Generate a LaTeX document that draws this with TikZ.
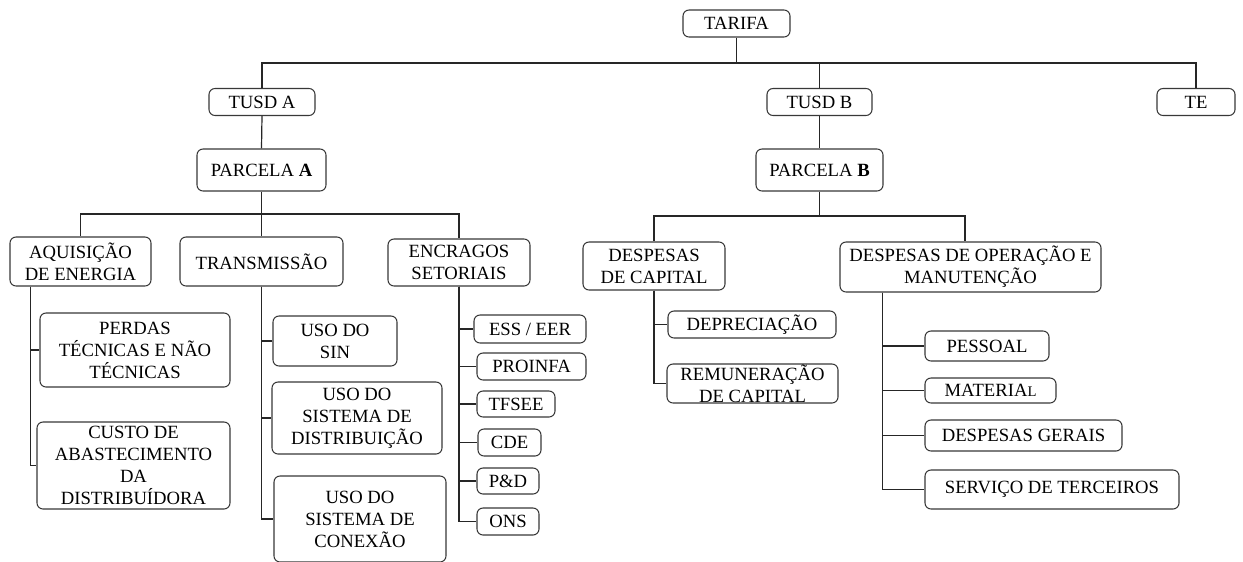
\documentclass[tikz,border=0pt]{standalone}
\usepackage{fontspec}
\setmainfont{Liberation Serif}
\newfontfamily\boxfont{Liberation Serif}
\begin{document}
\begin{tikzpicture}[x=0.75pt, y=-0.75pt,
  box/.style={draw=black!78, line width=0.8pt, rounded corners=4.5pt, inner sep=0pt,
    align=center, text=black, font=\boxfont\fontsize{14}{16.5}\selectfont},
  sz/.style 2 args={minimum width=#1*0.75pt, minimum height=#2*0.75pt},
  link/.style={draw=black!85, line width=0.9pt}]
\useasboundingbox (0,0) rectangle (1243,561);

% top levels
\node[box, sz={107}{27}] (tarifa) at (736.5,23.5) {TARIFA};
\node[box, sz={106}{27}] (tusda) at (262,102) {TUSD A};
\node[box, sz={105}{27}] (tusdb) at (819.5,102) {TUSD B};
\node[box, sz={78}{27}] (te) at (1196,102) {TE};
\node[box, sz={129}{42}] (parca) at (261.5,170) {PARCELA \textbf{A}};
\node[box, sz={127}{42}] (parcb) at (819.5,170) {PARCELA \textbf{B}};

% Parcela A groups
\node[box, sz={141}{49}] (aq) at (80.5,261.5) {AQUISIÇÃO\\DE ENERGIA};
\node[box, sz={163}{49}] (tr) at (261.5,261.5) {TRANSMISSÃO};
\node[box, sz={142}{47}] (en) at (459,262.5) {ENCRAGOS\\SETORIAIS};

% Parcela B groups
\node[box, sz={142}{48}] (dc) at (654,266) {DESPESAS\\DE CAPITAL};
\node[box, sz={261}{50}] (dop) at (970.5,267) {DESPESAS DE OPERAÇÃO E\\MANUTENÇÃO};

% energy acquisition
\node[box, sz={190}{74}] (perdas) at (135,350) {PERDAS\\TÉCNICAS E NÃO\\TÉCNICAS};
\node[box, sz={193}{87}] (custo) at (133.5,465.5) {CUSTO DE\\ABASTECIMENTO\\DA\\DISTRIBUÍDORA};

% transmission
\node[box, sz={124}{50}] (sin) at (335,341) {USO DO\\SIN};
\node[box, sz={170}{72}] (dist) at (357,418) {USO DO\\SISTEMA DE\\DISTRIBUIÇÃO};
\node[box, sz={172}{86}] (conex) at (360,519) {USO DO\\SISTEMA DE\\CONEXÃO};

% sector charges
\node[box, sz={112}{28}] (ess) at (530,329) {ESS / EER};
\node[box, sz={109}{27}] (proinfa) at (531.5,366.5) {PROINFA};
\node[box, sz={78}{26}] (tfsee) at (516,404) {TFSEE};
\node[box, sz={63}{27}] (cde) at (509.5,442.5) {CDE};
\node[box, sz={62}{26}] (pd) at (508,481) {P\&D};
\node[box, sz={62}{27}] (ons) at (508,521.5) {ONS};

% capital expenses
\node[box, sz={168}{27}] (dep) at (752,324.5) {DEPRECIAÇÃO};
\node[box, sz={171}{39}] (rem) at (752.5,383.5) {REMUNERAÇÃO\\DE CAPITAL};

% operation and maintenance
\node[box, sz={124}{30}] (pes) at (987,346) {PESSOAL};
\node[box, sz={131}{25}] (mat) at (990.5,390.5) {MATERIA{\fontsize{11}{12}\selectfont L}};
\node[box, sz={197}{31}] (ger) at (1023.5,435.5) {DESPESAS GERAIS};
\node[box, sz={254}{39}] (ser) at (1052,489.5) {SERVIÇO DE TERCEIROS};

% bus coordinates
\coordinate (tbus) at (736.5,63);
\coordinate (abus) at (261.5,214);
\coordinate (bbus) at (819.5,216);

% tariff tree
\draw[link] (tarifa.south) -- (tbus) -| (tusda.north);
\draw[link] (tbus) -| (tusdb.north);
\draw[link] (tbus) -| (te.north);
\draw[link] (tusda.south) -- (parca.north);
\draw[link] (tusdb.south) -- (parcb.north);

% Parcela A
\draw[link] (parca.south) -- (abus) -| (aq.north);
\draw[link] (abus) -- (tr.north);
\draw[link] (abus) -| (en.north);

% Parcela B
\draw[link, line width=1.3pt] (parcb.south) -- (bbus);
\draw[link] (bbus) -| (dc.north);
\draw[link] (bbus) -| ([xshift=-4.1pt]dop.north);

% branches
\draw[link] ([xshift=15.75pt]aq.south west) |- (perdas.west);
\draw[link] ([xshift=15.75pt]aq.south west) |- (custo.west);

\draw[link] (tr.south) |- (sin.west);
\draw[link] (tr.south) |- (dist.west);
\draw[link] (tr.south) |- (conex.west);

\foreach \c in {ess,proinfa,tfsee,cde,pd,ons}
  \draw[link] (en.south) |- (\c.west);

\draw[link] (dc.south) |- (dep.west);
\draw[link] (dc.south) |- (rem.west);

\foreach \c in {pes,mat,ger,ser}
  \draw[link] ([xshift=32.25pt]dop.south west) |- (\c.west);
\end{tikzpicture}
\end{document}
